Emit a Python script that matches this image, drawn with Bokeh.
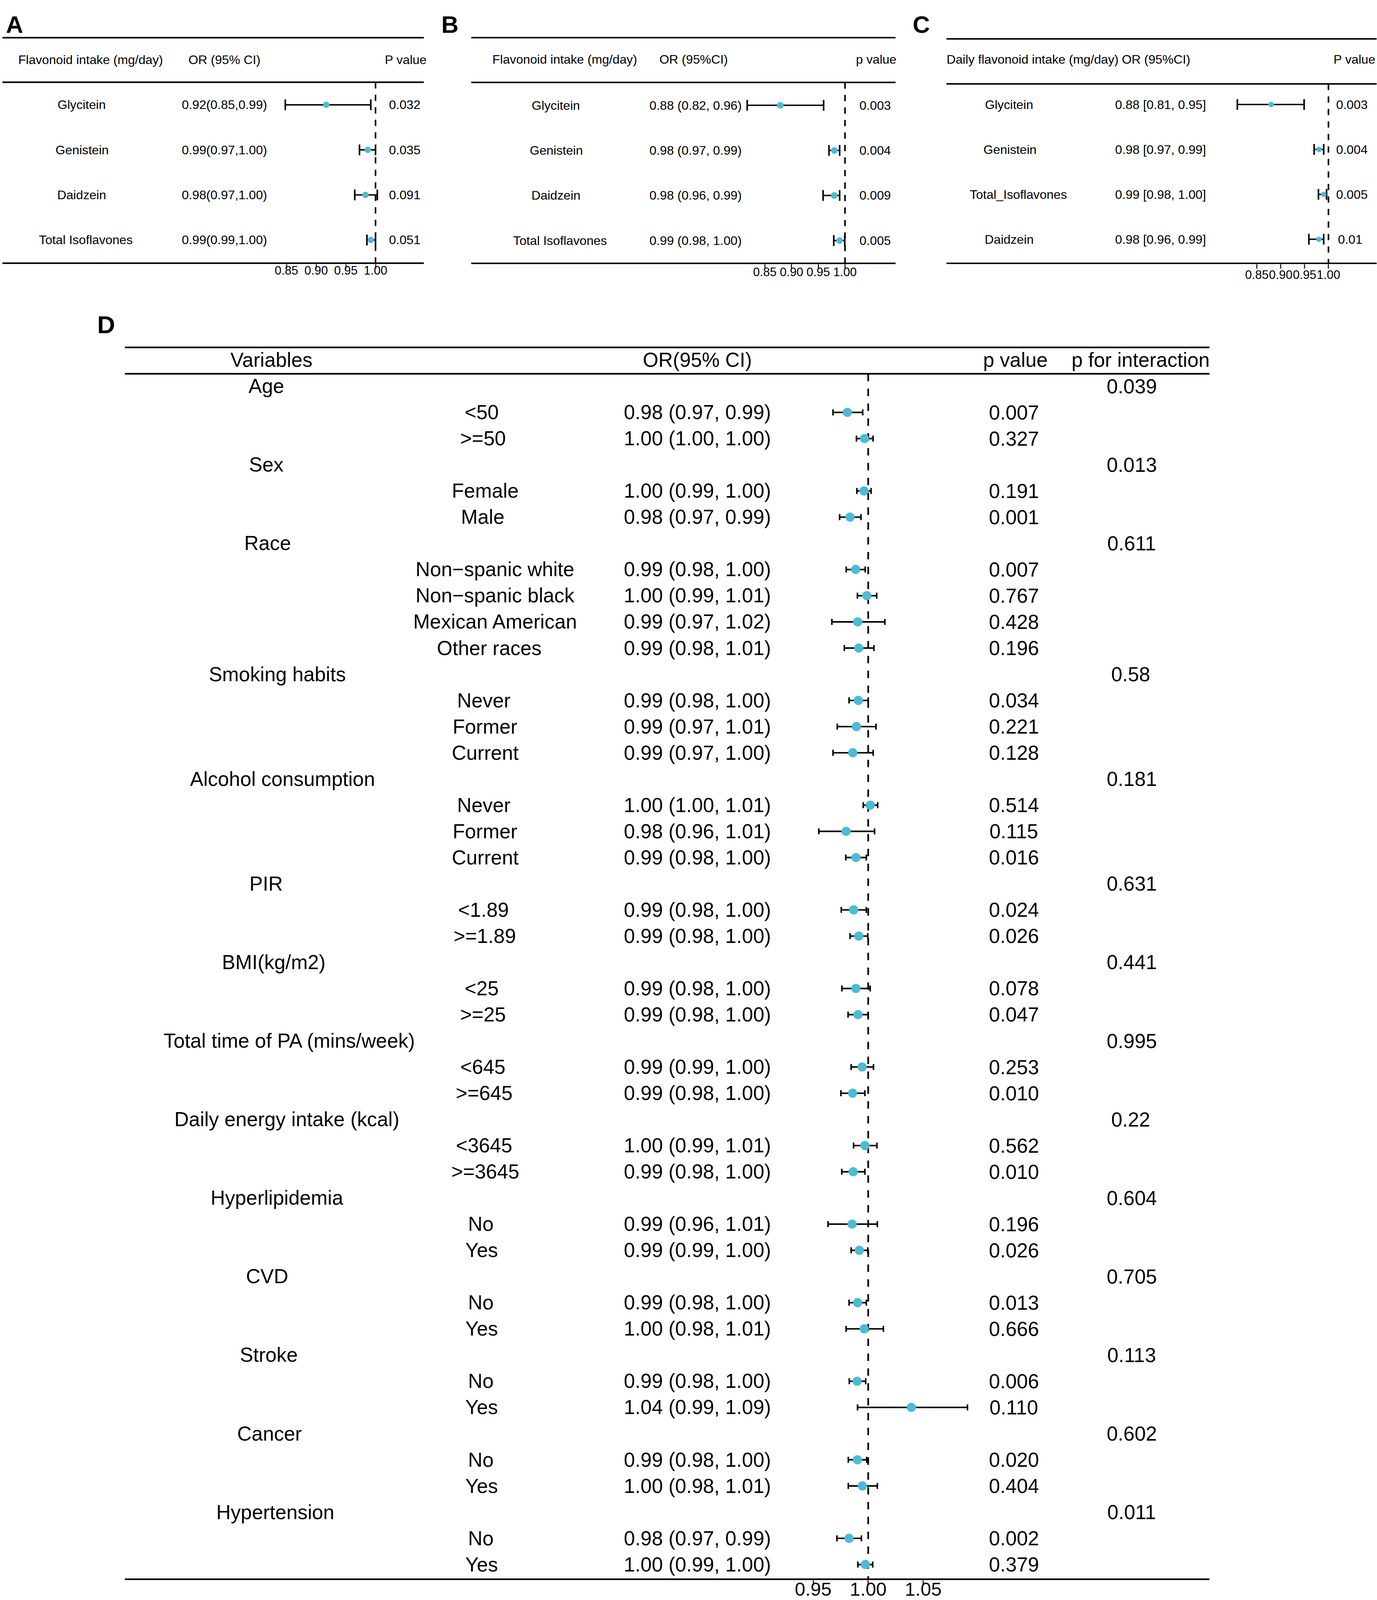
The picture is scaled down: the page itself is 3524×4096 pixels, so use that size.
import numpy as np
from bokeh.plotting import figure
from bokeh.models import Range1d, LinearAxis, FixedTicker, NumeralTickFormatter, ColumnDataSource
from bokeh.layouts import column, row
from bokeh.embed import file_html
from bokeh.resources import INLINE
from bokeh.core.properties import value

S = 0.814            # drawing scale relative to the reference
X0, Y0 = 0.0, 0.0    # reference point shown at the page origin
FONT = "Liberation Sans"
TEAL = "#4DBBD5"

# ---------------- data ----------------
# Panel A
a_header = ["Flavonoid intake (mg/day)", "OR (95% CI)", "P value"]
a_names = ["Glycitein", "Genistein", "Daidzein", "Total Isoflavones"]
a_or = ["0.92(0.85,0.99)", "0.99(0.97,1.00)", "0.98(0.97,1.00)", "0.99(0.99,1.00)"]
a_p = ["0.032", "0.035", "0.091", "0.051"]
a_est = [0.917, 0.987, 0.983, 0.992]
a_lo = [0.848, 0.973, 0.965, 0.9855]
a_hi = [0.992, 1.000, 1.003, 1.000]
a_ticks = [0.85, 0.90, 0.95, 1.00]

# Panel B
b_header = ["Flavonoid intake (mg/day)", "OR (95%CI)", "p value"]
b_names = ["Glycitein", "Genistein", "Daidzein", "Total Isoflavones"]
b_or = ["0.88 (0.82, 0.96)", "0.98 (0.97, 0.99)", "0.98 (0.96, 0.99)", "0.99 (0.98, 1.00)"]
b_p = ["0.003", "0.004", "0.009", "0.005"]
b_est = [0.879, 0.980, 0.980, 0.990]
b_lo = [0.817, 0.970, 0.959, 0.979]
b_hi = [0.960, 0.990, 0.990, 0.9995]
b_ticks = [0.85, 0.90, 0.95, 1.00]

# Panel C
c_header = ["Daily flavonoid intake (mg/day)", "OR (95%CI)", "P value"]
c_names = ["Glycitein", "Genistein", "Total_Isoflavones", "Daidzein"]
c_or = ["0.88 [0.81, 0.95]", "0.98 [0.97, 0.99]", "0.99 [0.98, 1.00]", "0.98 [0.96, 0.99]"]
c_p = ["0.003", "0.004", "0.005", "0.01"]
c_est = [0.880, 0.980, 0.990, 0.980]
c_lo = [0.809, 0.970, 0.979, 0.959]
c_hi = [0.949, 0.990, 0.996, 0.990]
c_ticks = [0.85, 0.90, 0.95, 1.00]

# Panel D
d_header = ["Variables", "OR(95% CI)", "p value", "p for interaction"]
d_var = ["Age", "", "", "Sex", "", "", "Race", "", "", "", "",
         "Smoking habits", "", "", "", "Alcohol consumption", "", "", "",
         "PIR", "", "", "BMI(kg/m2)", "", "", "Total time of PA (mins/week)", "", "",
         "Daily energy intake (kcal)", "", "", "Hyperlipidemia", "", "", "CVD", "", "",
         "Stroke", "", "", "Cancer", "", "", "Hypertension", "", ""]
d_sub = ["", "<50", ">=50", "", "Female", "Male", "", "Non\u2212spanic white",
         "Non\u2212spanic black", "Mexican American", "Other races", "", "Never", "Former",
         "Current", "", "Never", "Former", "Current", "", "<1.89", ">=1.89", "", "<25",
         ">=25", "", "<645", ">=645", "", "<3645", ">=3645", "", "No", "Yes", "", "No",
         "Yes", "", "No", "Yes", "", "No", "Yes", "", "No", "Yes"]
d_or = ["", "0.98 (0.97, 0.99)", "1.00 (1.00, 1.00)", "", "1.00 (0.99, 1.00)",
        "0.98 (0.97, 0.99)", "", "0.99 (0.98, 1.00)", "1.00 (0.99, 1.01)",
        "0.99 (0.97, 1.02)", "0.99 (0.98, 1.01)", "", "0.99 (0.98, 1.00)",
        "0.99 (0.97, 1.01)", "0.99 (0.97, 1.00)", "", "1.00 (1.00, 1.01)",
        "0.98 (0.96, 1.01)", "0.99 (0.98, 1.00)", "", "0.99 (0.98, 1.00)",
        "0.99 (0.98, 1.00)", "", "0.99 (0.98, 1.00)", "0.99 (0.98, 1.00)", "",
        "0.99 (0.99, 1.00)", "0.99 (0.98, 1.00)", "", "1.00 (0.99, 1.01)",
        "0.99 (0.98, 1.00)", "", "0.99 (0.96, 1.01)", "0.99 (0.99, 1.00)", "",
        "0.99 (0.98, 1.00)", "1.00 (0.98, 1.01)", "", "0.99 (0.98, 1.00)",
        "1.04 (0.99, 1.09)", "", "0.99 (0.98, 1.00)", "1.00 (0.98, 1.01)", "",
        "0.98 (0.97, 0.99)", "1.00 (0.99, 1.00)"]
d_p = ["", "0.007", "0.327", "", "0.191", "0.001", "", "0.007", "0.767", "0.428", "0.196",
       "", "0.034", "0.221", "0.128", "", "0.514", "0.115", "0.016", "", "0.024", "0.026",
       "", "0.078", "0.047", "", "0.253", "0.010", "", "0.562", "0.010", "", "0.196",
       "0.026", "", "0.013", "0.666", "", "0.006", "0.110", "", "0.020", "0.404", "",
       "0.002", "0.379"]
d_pint = ["0.039", "", "", "0.013", "", "", "0.611", "", "", "", "", "0.58", "", "", "",
          "0.181", "", "", "", "0.631", "", "", "0.441", "", "", "0.995", "", "", "0.22",
          "", "", "0.604", "", "", "0.705", "", "", "0.113", "", "", "0.602", "", "",
          "0.011", "", ""]
d_est = [None, 0.981, 0.9966, None, 0.9961, 0.9835, None, 0.9886, 0.9987, 0.9905, 0.9914,
         None, 0.991, 0.9893, 0.986, None, 1.0019, 0.9799, 0.9889, None, 0.9868, 0.9914,
         None, 0.9888, 0.9907, None, 0.9945, 0.9858, None, 0.997, 0.9863, None, 0.9854,
         0.9919, None, 0.9903, 0.9964, None, 0.9899, 1.0392, None, 0.9902, 0.9947, None,
         0.9826, 0.9974]
d_lo = [None, 0.968, 0.9893, None, 0.9897, 0.974, None, 0.980, 0.9902, 0.967, 0.9783,
        None, 0.9826, 0.9719, 0.968, None, 0.9955, 0.9551, 0.9796, None, 0.9755, 0.9835,
        None, 0.9761, 0.9817, None, 0.9845, 0.9752, None, 0.9867, 0.976, None, 0.9635,
        0.9845, None, 0.9826, 0.9799, None, 0.9828, 0.9903, None, 0.9819, 0.9819, None,
        0.9716, 0.9906]
d_hi = [None, 0.995, 1.0044, None, 1.0026, 0.9934, None, 0.9973, 1.0077, 1.0151, 1.0052,
        None, 1.000, 1.0071, 1.0045, None, 1.0086, 1.0058, 0.9983, None, 0.9983, 0.9996,
        None, 1.0018, 0.9999, None, 1.0048, 0.997, None, 1.0079, 0.997, None, 1.0083,
        0.9996, None, 0.9983, 1.0138, None, 0.9977, 1.0902, None, 0.9986, 1.0083, None,
        0.9938, 1.0041]
d_ticks = [0.95, 1.00, 1.05]


# ---------------- helpers ----------------
def make_fig(pl, pw, pt, ph, frame_bottom, c1, k):
    """Figure covering a block of the page; x/y ranges in reference pixels,
    extra 'or' range maps odds ratios (1.00 at c1, k ref px per unit)."""
    x0 = X0 + pl / S
    x1 = X0 + (pl + pw) / S
    y0 = Y0 + pt / S
    fh = int(round((frame_bottom - y0) * S))
    p = figure(width=pw, height=ph, x_range=Range1d(x0, x1),
               y_range=Range1d(y0 + fh / S, y0), output_backend="svg",
               toolbar_location=None, x_axis_type=None, y_axis_type=None,
               min_border_left=0, min_border_right=0, min_border_top=0,
               min_border_bottom=ph - fh, outline_line_color=None,
               background_fill_color="white", border_fill_color="white")
    p.grid.visible = False
    p.extra_x_ranges = {"or": Range1d(1 + (x0 - c1) / k, 1 + (x1 - c1) / k)}
    return p


def texts(p, x, ys, labels, size_ref, hjust=0.5):
    src = ColumnDataSource(dict(x=[x] * len(labels), y=list(ys), t=list(labels)))
    p.text(x="x", y="y", text="t", source=src, anchor=value((hjust, 0.5)),
           text_font=value(FONT), text_font_size=f"{size_ref * S:.1f}px",
           text_color="black")


def title(p, x, y, letter, size_ref):
    p.text(x=[x], y=[y], text=[letter], text_align="left", text_baseline="alphabetic",
           text_font=value(FONT), text_font_style=value("bold"),
           text_font_size=f"{size_ref * S:.1f}px", text_color="black")


def rules(p, left, right, ys, lw_ref):
    p.segment(x0=[left] * len(ys), x1=[right] * len(ys), y0=ys, y1=ys,
              line_color="black", line_width=lw_ref * S)


def ref_line(p, top, bottom, lw_ref, dash):
    p.segment(x0=[1.0], x1=[1.0], y0=[top], y1=[bottom], x_range_name="or",
              line_color="black", line_width=lw_ref * S, line_dash=dash)


def forest(p, est, lo, hi, ys, dot_ref, cap_ref, ci_ref, capw_ref):
    src = ColumnDataSource(dict(est=est, lo=lo, hi=hi, y=ys))
    p.segment(x0="lo", y0="y", x1="hi", y1="y", source=src, x_range_name="or",
              line_color="black", line_width=ci_ref * S)
    for col in ("lo", "hi"):
        p.scatter(x=col, y="y", source=src, x_range_name="or", marker="dash",
                  angle=np.pi / 2, size=cap_ref * S, line_color="black",
                  line_width=capw_ref * S)
    p.scatter(x="est", y="y", source=src, x_range_name="or", marker="circle",
              size=dot_ref * S, fill_color=TEAL, line_color=None)


def or_axis(p, ticks, font_ref, tick_ref, shift_px):
    t = int(round(tick_ref * S))
    ax = LinearAxis(x_range_name="or", ticker=FixedTicker(ticks=ticks),
                    formatter=NumeralTickFormatter(format="0.00"),
                    axis_line_color=None, major_tick_in=0, major_tick_out=t,
                    minor_tick_in=0, minor_tick_out=0, major_tick_line_width=2.5,
                    major_tick_line_color="black", major_label_standoff=-t + shift_px,
                    major_label_text_font=FONT,
                    major_label_text_font_size=f"{font_ref * S:.1f}px",
                    major_label_text_color="black")
    p.add_layout(ax, "below")


# ---------------- page geometry (screen px) ----------------
PAGE_W, PAGE_H = 3523, 4095
TOP_H = int(round(940 * S))
A_W = int(round(1360 * S))
B_W = int(round(1480 * S))
C_W = PAGE_W - A_W - B_W

# ---------------- small panels A, B, C ----------------
BODY = 39.5
TICKF = 38


def small_panel(pl, pw, letter, letter_x, rule_l, rule_r, rule_ys, c1, k,
                header, names, ors, ps, est, lo, hi, ticks,
                row0, rowh, col_x, col_h, dot_ref, label_shift):
    p = make_fig(pl, pw, 0, TOP_H, rule_ys[2] + 3, c1, k)
    title(p, letter_x, 77, letter, 75)
    rules(p, rule_l, rule_r, rule_ys, 4.8)
    ys = [row0 + i * rowh for i in range(len(names))]
    ref_line(p, rule_ys[1], rule_ys[2], 5, "16 16")
    forest(p, est, lo, hi, ys, dot_ref, 34, 4.5, 5)
    for j, col in enumerate([names, ors, ps]):
        texts(p, col_x[j], [187], [header[j]], BODY, col_h[j])
        texts(p, col_x[j], ys, col, BODY, col_h[j])
    or_axis(p, ticks, TICKF, 14, label_shift)
    return p


pA = small_panel(0, A_W, "A", 18, 7, 1332, [118, 258, 827], 1180, 1866,
                 a_header, a_names, a_or, a_p, a_est, a_lo, a_hi, a_ticks,
                 329, 141.7, [241.9, 705, 1262], [0.407, 0.5, 0.4], 20, 4)
pB = small_panel(A_W, B_W, "B", 1387, 1481, 2815, [118, 259, 829], 2656, 1680,
                 b_header, b_names, b_or, b_p, b_est, b_lo, b_hi, b_ticks,
                 331, 142, [1733, 2163, 2740], [0.408, 0.42, 0.39], 21, 8)
pC = small_panel(A_W + B_W, C_W, "C", 2869, 2975, 4330, [122, 264, 830], 4176, 1500,
                 c_header, c_names, c_or, c_p, c_est, c_lo, c_hi, c_ticks,
                 329, 141.7, [3143, 3591, 4225], [0.31, 0.3, 0.25], 17, 15)

# ---------------- panel D ----------------
D_RULES = [1092, 1175, 4966]
D_BODY = 63
pD = make_fig(0, PAGE_W, TOP_H, PAGE_H - TOP_H, D_RULES[2] + 3, 2729, 3460)
title(pD, 305, 1020, "D", 78)
rules(pD, 392, 3802, D_RULES, 5.2)
ref_line(pD, D_RULES[1], D_RULES[2], 5.4, "19 19")

d_rows = [1214 + 82.35 * i for i in range(len(d_var))]
idx = [i for i, e in enumerate(d_est) if e is not None]
forest(pD, [d_est[i] for i in idx], [d_lo[i] for i in idx], [d_hi[i] for i in idx],
       [d_rows[i] for i in idx], 29, 19, 4.8, 4.8)

d_cols = [(824.8, 0.392, d_var), (1502.6, 0.394, d_sub), (2192, 0.5, d_or),
          (3171.5, 0.4, d_p), (3542, 0.4, d_pint)]
for cx, hj, col in d_cols:
    texts(pD, cx, d_rows, col, D_BODY, hj)
texts(pD, 824.8, [1131], [d_header[0]], D_BODY, 0.392)
texts(pD, 2192, [1131], [d_header[1]], D_BODY, 0.5)
texts(pD, 3171.5, [1131], [d_header[2]], D_BODY, 0.4)
texts(pD, 3542, [1131], [d_header[3]], D_BODY, 0.4)
or_axis(pD, d_ticks, 59.6, 13, 6)

layout = column(row(pA, pB, pC), pD)
open("out.html", "w").write(file_html(layout, INLINE))
